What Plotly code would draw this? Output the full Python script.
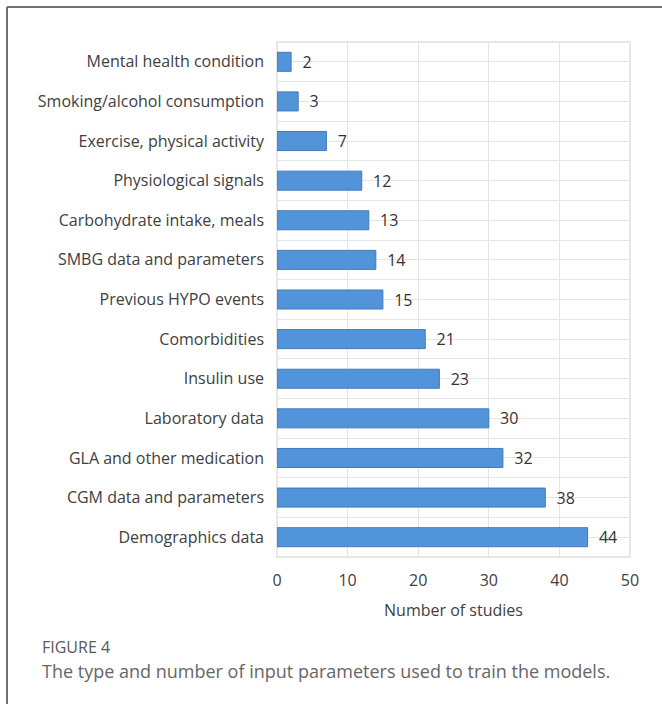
import plotly.graph_objects as go

categories = [
    "Demographics data", "CGM data and parameters", "GLA and other medication",
    "Laboratory data", "Insulin use", "Comorbidities", "Previous HYPO events",
    "SMBG data and parameters", "Carbohydrate intake, meals", "Physiological signals",
    "Exercise, physical activity", "Smoking/alcohol consumption", "Mental health condition",
]
values = [44, 38, 32, 30, 23, 21, 15, 14, 13, 12, 7, 3, 2]
x_ticks = [0, 10, 20, 30, 40, 50]

W, H = 662, 704
L, R, T, B = 277, 32, 42, 147
pw, ph = W - L - R, H - T - B

def px(x):
    return (x - L) / pw

def py(y):
    return (H - B - y) / ph

idx = list(range(len(categories)))
FONT = "Open Sans"

fig = go.Figure(go.Bar(
    x=values, y=idx, orientation="h",
    marker=dict(color="#5294da", line=dict(color="#4279bd", width=1)),
    width=0.48,
    text=[str(v) for v in values], texttemplate="  %{text}", textposition="outside",
    constraintext="none",
    textfont=dict(size=16, color="#333333", family=FONT),
    cliponaxis=False,
))

fig.update_layout(
    width=W, height=H,
    margin=dict(l=L, r=R, t=T, b=B),
    paper_bgcolor="white", plot_bgcolor="white",
    showlegend=False,
    font=dict(family=FONT, color="#404040"),
    xaxis=dict(
        range=[0, 50], tickvals=x_ticks, showgrid=True, gridcolor="#e4e4e4",
        gridwidth=1, zeroline=False, showline=False,
        tickfont=dict(size=16, color="#404040"), ticklabelstandoff=12,
        title=dict(text="Number of studies", font=dict(size=16, color="#404040"), standoff=14),
        ticks="", fixedrange=True,
    ),
    yaxis=dict(
        range=[-0.5, len(categories) - 0.5], tickvals=idx, ticktext=categories,
        showgrid=True, gridcolor="#e4e4e4", zeroline=False, showline=False,
        tickfont=dict(size=16, color="#404040"), ticks="", ticklabelstandoff=12,
        minor=dict(tickvals=[i - 0.5 for i in range(len(categories) + 1)],
                   showgrid=True, gridcolor="#e4e4e4", ticks=""),
    ),
    bargap=0.52,
)

# plot border
fig.add_shape(type="rect", xref="paper", yref="paper", x0=0, x1=1, y0=0, y1=1,
              line=dict(color="#e0e0e0", width=1.5), layer="below")
# outer frame
fig.add_shape(type="line", xref="paper", yref="paper",
              x0=px(7), x1=px(W + 5), y0=py(7), y1=py(7),
              line=dict(color="#707070", width=2))
fig.add_shape(type="line", xref="paper", yref="paper",
              x0=px(7), x1=px(7), y0=py(7), y1=py(H + 5),
              line=dict(color="#707070", width=2))

fig.add_annotation(text="FIGURE 4", xref="paper", yref="paper",
                   x=px(40), y=py(647), xanchor="left", yanchor="middle",
                   showarrow=False, font=dict(size=16, color="#595959", family=FONT))
fig.add_annotation(text="The type and number of input parameters used to train the models.",
                   xref="paper", yref="paper",
                   x=px(40), y=py(671), xanchor="left", yanchor="middle",
                   showarrow=False, font=dict(size=18, color="#666666", family=FONT))

fig.write_html("out.html")
